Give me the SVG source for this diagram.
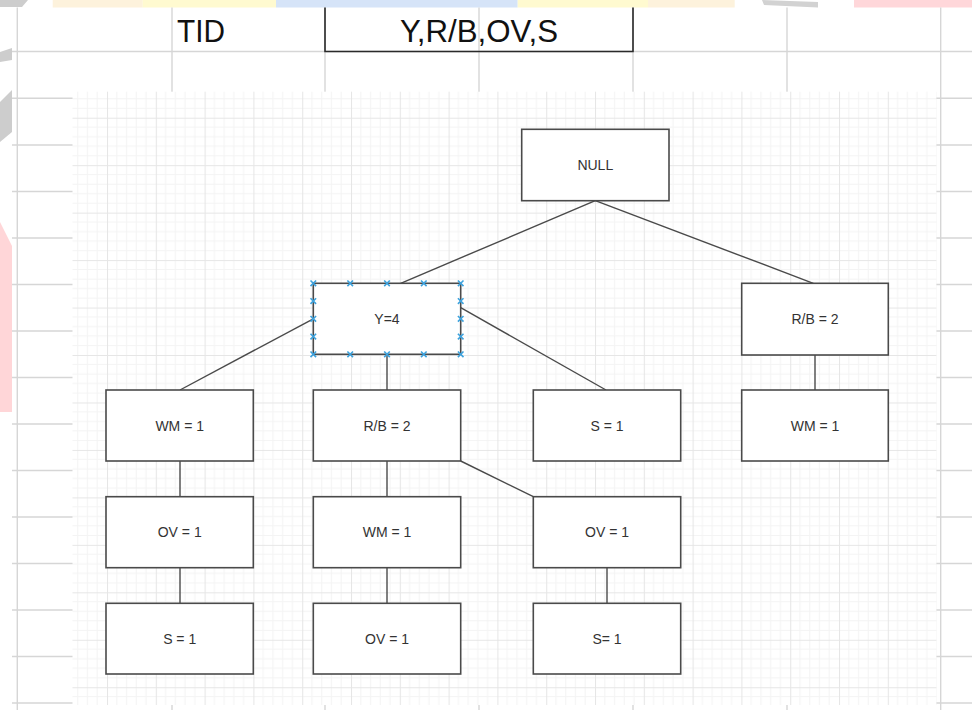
<svg xmlns="http://www.w3.org/2000/svg" width="972" height="710" viewBox="0 0 972 710">
<style>
.sl{stroke:#d6d6d6;stroke-width:1.4;fill:none}
.box rect{fill:#fff;stroke:#4a4a4a;stroke-width:1.6}
.box text{font-family:'Liberation Sans',Arial,sans-serif;font-size:14px;fill:#333;text-anchor:middle;dominant-baseline:central}
.conn line{stroke:#4a4a4a;stroke-width:1.4}
.hdr{font-family:'Liberation Sans',Arial,sans-serif;font-size:31px;fill:#111}
.hd{stroke:#3da2dd;stroke-width:1.6}
</style>
<defs>
<pattern id="grid" patternUnits="userSpaceOnUse" x="9.4" y="22.8" width="48.8" height="47.46">
<rect width="48.8" height="47.46" fill="#fff"/>
<path d="M9.76 0V47.46M19.52 0V47.46M29.28 0V47.46M39.04 0V47.46M0 9.49H48.8M0 18.98H48.8M0 28.48H48.8M0 37.97H48.8" stroke="#f4f4f4" stroke-width="1"/>
<path d="M0.5 0V47.46M0 0.5H48.8" stroke="#e6e6e6" stroke-width="1"/>
</pattern>
<g id="h"><path class="hd" d="M-2.8 -2.8L2.8 2.8M-2.8 2.8L2.8 -2.8"/></g>
</defs>
<rect width="972" height="710" fill="#fff"/>
<!-- top colour band -->
<rect x="52.7" y="0" width="90" height="7.5" fill="#fdf2dc"/>
<rect x="142.6" y="0" width="133.4" height="7.5" fill="#fffad0"/>
<rect x="276" y="0" width="241.7" height="7.5" fill="#d6e4f8"/>
<rect x="517.7" y="0" width="130.3" height="7.5" fill="#fffad0"/>
<rect x="648" y="0" width="86.7" height="7.5" fill="#fdf2dc"/>
<polygon points="762,0 818,2 818,7.5 764,5" fill="#d2d2d2"/>
<rect x="854" y="0" width="118" height="7.5" fill="#ffd7da"/>
<!-- left edge marks -->
<polygon points="0,0 28,0 22,7 0,7" fill="#cdcdcd"/>
<polygon points="0,52 12,48 12,60 0,62" fill="#cdcdcd"/>
<polygon points="0,102 12,90 12,132 0,142" fill="#cdcdcd"/>
<polygon points="0,222 12,246 12,412 0,412" fill="#ffd6d8"/>
<!-- spreadsheet grid -->
<g class="sl">
<path d="M12 51.5H972M12 98.2H972M12 145H972M12 191.5H972M12 238H972M12 284.5H972M12 331H972M12 377.5H972M12 424H972M12 470.5H972M12 517H972M12 563.5H972M12 610H972M12 656.5H972M12 703H972"/>
<path d="M17.3 7.5V710M172 7.5V710M325 7.5V710M479 7.5V710M633 7.5V710M787 7.5V710M940.7 7.5V710"/>
</g>
<!-- header cells -->
<g id="header">
<path d="M325 7.5V51.5H633V7.5" fill="none" stroke="#2a2a2a" stroke-width="1.6"/>
<text class="hdr" x="177" y="42" textLength="48" lengthAdjust="spacingAndGlyphs">TID</text>
<text class="hdr" x="400" y="42" textLength="158" lengthAdjust="spacingAndGlyphs">Y,R/B,OV,S</text>
</g>
<!-- canvas -->
<rect x="72.5" y="91.7" width="864" height="613.3" fill="url(#grid)"/>
<g class="conn">
<line x1="595.3" y1="200.7" x2="400.7" y2="283.3"/>
<line x1="595.3" y1="200.7" x2="813.3" y2="283.3"/>
<line x1="313.3" y1="318.8" x2="180" y2="390"/>
<line x1="460.7" y1="307.7" x2="606" y2="390"/>
<line x1="387" y1="354.3" x2="387" y2="390"/>
<line x1="460.7" y1="461" x2="533.3" y2="496.7"/>
<line x1="387" y1="461" x2="387" y2="496.7"/>
<line x1="387" y1="567.7" x2="387" y2="603.3"/>
<line x1="180" y1="461" x2="180" y2="496.7"/>
<line x1="180" y1="567.7" x2="180" y2="603.3"/>
<line x1="607" y1="567.7" x2="607" y2="603.3"/>
<line x1="815" y1="355" x2="815" y2="390"/>
</g>
<g id="n-null" class="box"><rect x="521.7" y="129.3" width="147.3" height="71.4"/><text x="595.3" y="165">NULL</text></g>
<g id="n-y4" class="box"><rect x="313.3" y="283.3" width="147.4" height="71"/><text x="387" y="318.8">Y=4</text></g>
<g id="n-rb2-top" class="box"><rect x="741.7" y="283.3" width="146.6" height="71.7"/><text x="815" y="319.2">R/B = 2</text></g>
<g id="n-wm-a" class="box"><rect x="106" y="390" width="147.3" height="71"/><text x="179.7" y="425.5">WM = 1</text></g>
<g id="n-rb2-b" class="box"><rect x="313.3" y="390" width="147.4" height="71"/><text x="387" y="425.5">R/B = 2</text></g>
<g id="n-s-c" class="box"><rect x="533.3" y="390" width="147.4" height="71"/><text x="607" y="425.5">S = 1</text></g>
<g id="n-wm-d" class="box"><rect x="741.7" y="390" width="146.6" height="71"/><text x="815" y="425.5">WM = 1</text></g>
<g id="n-ov-a" class="box"><rect x="106" y="496.7" width="147.3" height="71"/><text x="179.7" y="532.2">OV = 1</text></g>
<g id="n-wm-b" class="box"><rect x="313.3" y="496.7" width="147.4" height="71"/><text x="387" y="532.2">WM = 1</text></g>
<g id="n-ov-c" class="box"><rect x="533.3" y="496.7" width="147.4" height="71"/><text x="607" y="532.2">OV = 1</text></g>
<g id="n-s-a" class="box"><rect x="106" y="603.3" width="147.3" height="70.7"/><text x="179.7" y="638.7">S = 1</text></g>
<g id="n-ov-b" class="box"><rect x="313.3" y="603.3" width="147.4" height="70.7"/><text x="387" y="638.7">OV = 1</text></g>
<g id="n-s-c2" class="box"><rect x="533.3" y="603.3" width="147.4" height="70.7"/><text x="607" y="638.7">S= 1</text></g>
<!-- selection handles on Y=4 -->
<g id="handles">
<use href="#h" x="313.3" y="283.3"/><use href="#h" x="350.2" y="283.3"/><use href="#h" x="387" y="283.3"/><use href="#h" x="423.8" y="283.3"/><use href="#h" x="460.7" y="283.3"/>
<use href="#h" x="313.3" y="354.3"/><use href="#h" x="350.2" y="354.3"/><use href="#h" x="387" y="354.3"/><use href="#h" x="423.8" y="354.3"/><use href="#h" x="460.7" y="354.3"/>
<use href="#h" x="313.3" y="301.1"/><use href="#h" x="313.3" y="318.8"/><use href="#h" x="313.3" y="336.6"/>
<use href="#h" x="460.7" y="301.1"/><use href="#h" x="460.7" y="318.8"/><use href="#h" x="460.7" y="336.6"/>
</g>
</svg>
